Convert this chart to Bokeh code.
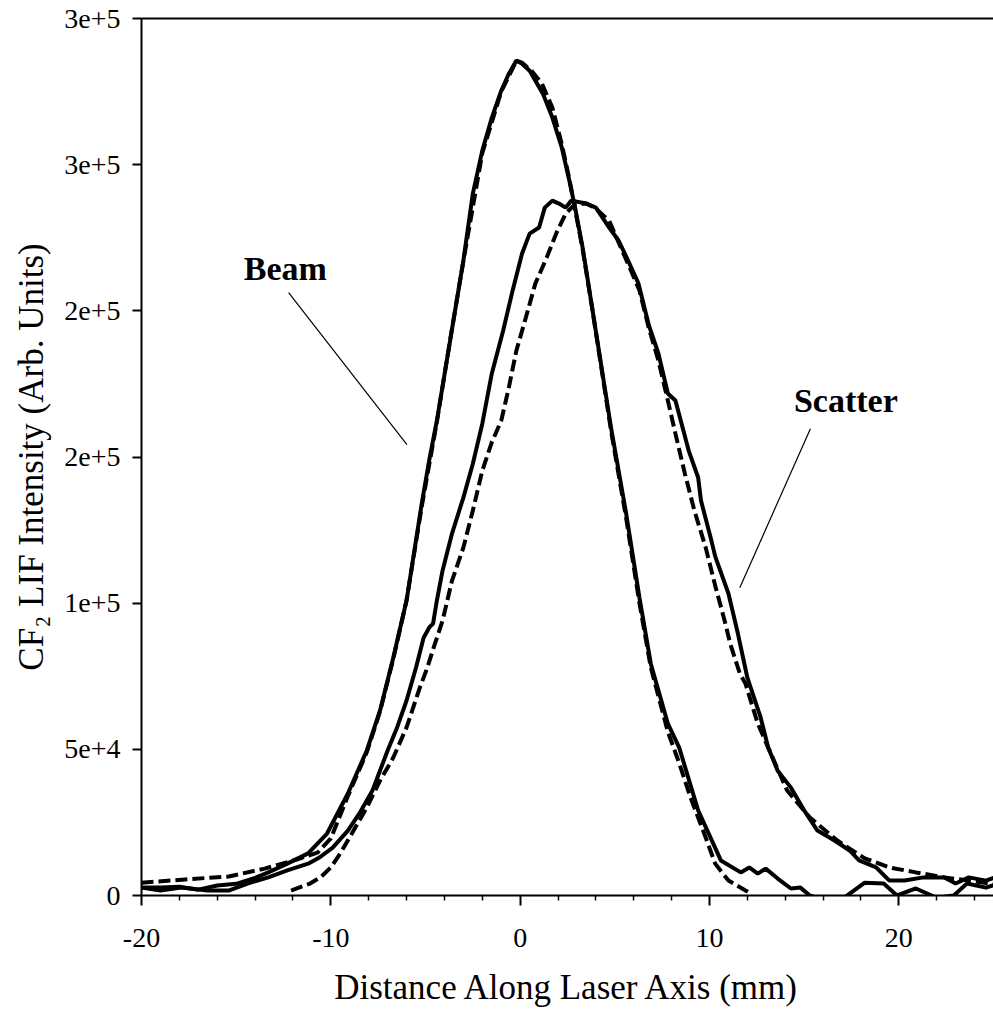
from bokeh.plotting import figure
from bokeh.models import Range1d, FixedTicker, LinearAxis, Label
from bokeh.embed import file_html
from bokeh.resources import INLINE

# ---------------- data ----------------
beam_x = [-20.0, -19.0, -18.0, -17.0, -16.0, -15.0, -14.0, -13.3, -12.3, -11.2, -10.2,
          -9.1, -8.1, -7.4, -6.7, -6.0, -5.2, -4.8, -4.4, -3.7, -3.0, -2.5, -2.0, -1.5,
          -1.0, -0.6, -0.2, 0.1, 0.5, 1.2, 1.7, 2.2, 2.6, 2.9, 3.3, 3.8, 4.3, 4.8, 5.6,
          6.3, 6.9, 7.8, 8.4, 9.4, 10.6, 11.65, 12.1, 12.55, 12.97, 13.6, 14.3, 14.8,
          15.3, 16.0, 17.1, 18.2, 19.2, 19.9, 20.9, 22.0, 22.9, 23.6, 24.6, 25.0]
beam_y = [2700, 2700, 3000, 2000, 3400, 4000, 6000, 7900, 10900, 14400, 21200,
          34900, 49600, 63300, 81400, 100900, 134000, 149000, 162400, 189800, 217200,
          240100, 254800, 266000, 275300, 281100, 285600, 284500, 282100, 274300, 266100,
          255800, 244500, 235300, 221600, 201100, 180600, 160000, 130600, 101900, 79300,
          58800, 50600, 29100, 12000, 7900, 9600, 7500, 9200, 5800, 2400, 2700,
          0, -1500, -800, 4400, 4100, 0, 2400, -800, 0, 4100, 2700, 3500]

beam_fit_x = [-20.0, -17.7, -15.4, -13.5, -11.8, -10.7, -10.0, -9.1, -8.1, -7.4, -6.7,
              -6.0, -5.2, -4.4, -3.7, -3.0, -2.0, -1.0, -0.2, 0.1, 0.6, 1.15, 1.7, 2.2,
              2.6, 3.3, 3.8, 4.3, 4.8, 5.6, 6.3, 6.9, 7.8, 8.35, 9.0, 9.8, 10.3, 11.0,
              11.9, 12.1]
beam_fit_y = [4400, 5500, 6500, 9200, 12300, 14700, 19500, 34000, 49000, 63000, 81000,
              101000, 133000, 162000, 190000, 217000, 254000, 275000, 285500, 284900,
              282100, 277700, 269500, 257000, 245000, 221000, 201000, 180000, 159000,
              129000, 100000, 78000, 56000, 46200, 33500, 19800, 10900, 5100, 1700, 1000]

scatter_x = [-20.0, -19.0, -17.9, -16.5, -15.4, -14.4, -13.3, -12.3, -11.2, -10.6, -9.9,
             -9.1, -8.5, -7.8, -7.0, -6.5, -6.0, -5.5, -5.1, -4.8, -4.6, -4.4, -4.1, -3.6,
             -3.0, -2.5, -2.0, -1.5, -0.9, -0.4, 0.1, 0.5, 1.0, 1.3, 1.7, 2.05, 2.4, 2.7,
             3.5, 4.0, 4.7, 5.2, 5.7, 6.25, 6.8, 7.3, 7.8, 8.2, 8.9, 9.4, 9.55, 10.1, 10.3,
             11.0, 11.5, 12.0, 12.7, 13.1, 13.6, 14.3, 15.0, 15.7, 16.6, 17.4, 17.9, 18.8,
             19.5, 20.3, 21.3, 22.4, 23.0, 23.7, 24.6, 25.0]
scatter_y = [2700, 1700, 2700, 1700, 1700, 4100, 6200, 8600, 10900, 13000, 16400,
             22200, 28000, 35900, 49600, 57500, 66700, 78000, 88200, 91700, 93000, 100900,
             111100, 123800, 136100, 147700, 161400, 178500, 193200, 206900, 219600,
             226400, 228500, 235300, 237700, 236700, 235300, 237700, 236700, 235300,
             228500, 224000, 217200, 209300, 195000, 185400, 171700, 169300, 152200,
             143000, 135100, 121400, 116000, 103300, 89600, 74500, 60900, 50600, 42700,
             36900, 29100, 22200, 18800, 15400, 12000, 9600, 5100, 5100, 6200, 6200,
             4100, 6200, 5100, 6000]

scatter_fit_x = [-12.1, -11.8, -11.1, -10.55, -10.0, -9.5, -8.8, -8.1, -7.4, -6.7, -6.0,
                 -5.3, -4.9, -4.5, -4.1, -3.6, -3.0, -2.5, -2.0, -1.5, -1.0, -0.6, -0.2,
                 0.3, 0.8, 1.4, 1.9, 2.4, 2.9, 3.5, 4.0, 4.7, 5.0, 5.7, 6.3, 6.8, 7.3,
                 7.8, 8.2, 8.7, 9.2, 9.8, 10.3, 10.8, 11.1, 11.6, 11.9, 12.55, 13.1, 14.1,
                 15.3, 16.75, 18.2, 19.5, 20.9, 22.4, 23.7, 24.8, 25.0]
scatter_fit_y = [1700, 2400, 4100, 6200, 9600, 14400, 22200, 30100, 39300, 47200, 57500,
                 71100, 78000, 86200, 94000, 107700, 119000, 131700, 145300, 155000,
                 162400, 173700, 186400, 197700, 209300, 218200, 226400, 233200, 236500,
                 236700, 235000, 230800, 226400, 216000, 207000, 194000, 183000, 169300,
                 158000, 144300, 131700, 119000, 106000, 94000, 86000, 76000, 72500,
                 58800, 50600, 35900, 26700, 18800, 12700, 9600, 7900, 6200, 5100, 4100,
                 4000]

x_ticks = [-20, -10, 0, 10, 20]
x_tick_labels = ["-20", "-10", "0", "10", "20"]
y_ticks = [0, 50000, 100000, 150000, 200000, 250000, 300000]
y_tick_labels = ["0", "5e+4", "1e+5", "2e+5", "2e+5", "3e+5", "3e+5"]

# annotation anchors (data units)
beam_label = ("Beam", -12.4, 214600)
beam_leader = ([-12.23, -5.98], [206200, 154200])
scatter_label = ("Scatter", 17.2, 169300)
scatter_leader = ([15.33, 11.60], [159700, 105300])

FONT = "Liberation Serif"

p = figure(width=993, height=1009, output_backend="svg", toolbar_location=None,
           x_range=Range1d(-20, 25), y_range=Range1d(0, 300000),
           min_border_left=141, min_border_right=0, min_border_top=18,
           min_border_bottom=114)
p.outline_line_color = None
p.xgrid.visible = False
p.ygrid.visible = False
p.background_fill_color = "white"
p.border_fill_color = "white"

minor = [v for v in range(-20, 26, 2) if v % 10 != 0]
p.xaxis.ticker = FixedTicker(ticks=x_ticks, minor_ticks=minor)
p.xaxis.major_label_overrides = {t: l for t, l in zip(x_ticks, x_tick_labels)}
p.yaxis.ticker = FixedTicker(ticks=y_ticks)
p.yaxis.major_label_overrides = {t: l for t, l in zip(y_ticks, y_tick_labels)}

for ax in (p.xaxis[0], p.yaxis[0]):
    ax.axis_line_width = 2
    ax.axis_line_color = "black"
    ax.major_tick_line_color = "black"
    ax.major_tick_line_width = 2
    ax.minor_tick_line_color = "black"
    ax.minor_tick_line_width = 1.5
    ax.major_label_text_font = FONT
    ax.major_label_text_font_size = "28px"
    ax.major_label_text_color = "black"
    ax.axis_label_text_font = FONT
    ax.axis_label_text_font_style = "normal"
    ax.axis_label_text_font_size = "35px"
    ax.axis_label_text_color = "black"

p.xaxis.major_tick_out = 10
p.xaxis.major_tick_in = 0
p.xaxis.minor_tick_out = 5
p.xaxis.minor_tick_in = 0
p.xaxis.major_label_standoff = 23
p.xaxis.axis_label = "Distance Along Laser Axis (mm)"
p.xaxis.axis_label_standoff = 18

p.yaxis.major_tick_out = 9
p.yaxis.major_tick_in = 0
p.yaxis.minor_tick_line_color = None
p.yaxis.major_label_standoff = 12
p.yaxis.axis_label = "CF\u2082 LIF Intensity (Arb. Units)"
p.yaxis.axis_label_standoff = 10

top = LinearAxis(ticker=FixedTicker(ticks=[]), axis_line_width=2, axis_line_color="black",
                 major_tick_line_color=None, minor_tick_line_color=None)
p.add_layout(top, "above")

# curves
p.line(beam_fit_x, beam_fit_y, line_color="black", line_width=4, line_dash="12 5")
p.line(scatter_fit_x, scatter_fit_y, line_color="black", line_width=4, line_dash="12 5")
p.line(beam_x, beam_y, line_color="black", line_width=4)
p.line(scatter_x, scatter_y, line_color="black", line_width=4)

# annotations
p.line(beam_leader[0], beam_leader[1], line_color="black", line_width=1.2)
p.line(scatter_leader[0], scatter_leader[1], line_color="black", line_width=1.2)
for txt, lx, ly in (beam_label, scatter_label):
    p.add_layout(Label(x=lx, y=ly, text=txt, text_font=FONT, text_font_style="bold",
                       text_font_size="34px", text_align="center",
                       text_baseline="middle", text_color="black"))

open("out.html", "w").write(file_html(p, INLINE))
